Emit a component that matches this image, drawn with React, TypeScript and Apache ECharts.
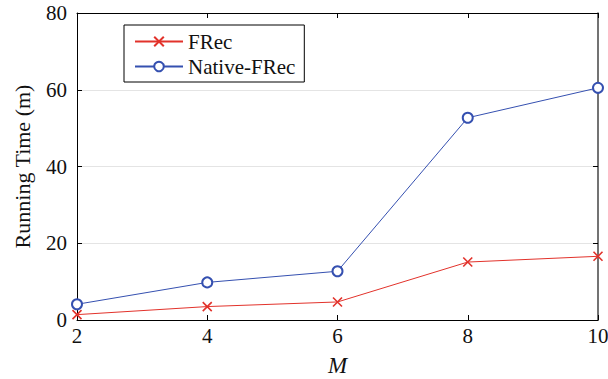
import React, { useEffect, useRef } from "react";
import * as echarts from "echarts";

const mValues = [2, 4, 6, 8, 10];
const frec = [1.4, 3.5, 4.7, 15.1, 16.6];
const nativeFrec = [4.1, 9.8, 12.7, 52.7, 60.5];
const seriesNames = ["FRec", "Native-FRec"];

const FONT = "Liberation Serif, Times New Roman, serif";
const RED = "#e2322b";
const BLUE = "#3550b0";

export default function App() {
  const ref = useRef<HTMLDivElement>(null);
  useEffect(() => {
    if (!ref.current) return;
    const chart = echarts.init(ref.current, undefined, { renderer: "svg" });
    const baseX = {
      type: "value" as const,
      min: 2,
      max: 10,
      interval: 2,
    };
    const baseY = {
      type: "value" as const,
      min: 0,
      max: 80,
      interval: 20,
    };
    const tickRich = { t: { fontFamily: FONT, fontSize: 21, color: "#111" } };
    chart.setOption({
      animation: false,
      backgroundColor: "#ffffff",
      textStyle: { fontFamily: FONT },
      grid: { left: 77, right: 10, top: 13, bottom: 59, containLabel: false, outerBoundsMode: "none" },
      legend: {
        show: true,
        orient: "vertical",
        left: 124,
        top: 25,
        itemWidth: 48,
        itemHeight: 12,
        itemGap: 4,
        padding: [6, 9, 5, 10],
        borderColor: "#000",
        borderWidth: 1,
        backgroundColor: "#fff",
        textStyle: { fontFamily: FONT, fontSize: 21, color: "#111" },
        data: seriesNames,
      },
      xAxis: [
        {
          ...baseX,
          position: "bottom",
          name: "{n|M}",
          nameLocation: "middle",
          nameGap: 34,
          nameTextStyle: {
            fontFamily: FONT,
            fontSize: 23,
            fontStyle: "italic",
            color: "#111",
            rich: { n: { fontFamily: FONT, fontSize: 23, fontStyle: "italic", color: "#111" } },
          },
          axisLine: { show: true, onZero: false, lineStyle: { color: "#000", width: 1 } },
          axisTick: { show: true, inside: true, length: 5, lineStyle: { color: "#000" } },
          axisLabel: {
            fontFamily: FONT,
            fontSize: 21,
            color: "#111",
            margin: 5,
            formatter: (v: number) => `{t|${v}}`,
            rich: tickRich,
          },
          splitLine: { show: false },
        },
        {
          ...baseX,
          position: "top",
          axisLine: { show: true, onZero: false, lineStyle: { color: "#000", width: 1 } },
          axisTick: { show: true, inside: true, length: 5, lineStyle: { color: "#000" } },
          axisLabel: { show: false },
          splitLine: { show: false },
        },
      ],
      yAxis: [
        {
          ...baseY,
          position: "left",
          name: "{n|Running Time (m)}",
          nameLocation: "middle",
          nameGap: 44,
          nameTextStyle: {
            fontFamily: FONT,
            fontSize: 22,
            color: "#111",
            rich: { n: { fontFamily: FONT, fontSize: 22, color: "#111" } },
          },
          axisLine: { show: true, onZero: false, lineStyle: { color: "#000", width: 1 } },
          axisTick: { show: true, inside: true, length: 5, lineStyle: { color: "#000" } },
          axisLabel: {
            fontFamily: FONT,
            fontSize: 21,
            color: "#111",
            margin: 10,
            formatter: (v: number) => `{t|${v}}`,
            rich: tickRich,
          },
          splitLine: { show: true, lineStyle: { color: "#e4e4e4", width: 1 } },
        },
        {
          ...baseY,
          position: "right",
          axisLine: { show: true, onZero: false, lineStyle: { color: "#444", width: 1.5 } },
          axisTick: { show: true, inside: true, length: 5, lineStyle: { color: "#000" } },
          axisLabel: { show: false },
          splitLine: { show: false },
        },
      ],
      series: [
        {
          name: seriesNames[0],
          type: "line",
          xAxisIndex: 0,
          yAxisIndex: 0,
          data: mValues.map((m, i) => [m, frec[i]]),
          symbol: "path://M0,0L10,10M10,0L0,10",
          symbolSize: 9,
          lineStyle: { color: RED, width: 1 },
          itemStyle: { color: RED, borderColor: RED, borderWidth: 1.6 },
          z: 3,
        },
        {
          name: seriesNames[1],
          type: "line",
          xAxisIndex: 0,
          yAxisIndex: 0,
          data: mValues.map((m, i) => [m, nativeFrec[i]]),
          symbol: "emptyCircle",
          symbolSize: 10,
          lineStyle: { color: BLUE, width: 1 },
          itemStyle: { color: BLUE, borderColor: BLUE, borderWidth: 1.5 },
          z: 3,
        },
      ],
    });
    return () => chart.dispose();
  }, []);
  return <div ref={ref} style={{ width: 608, height: 379, position: "absolute", left: 0, top: 0 }} />;
}
